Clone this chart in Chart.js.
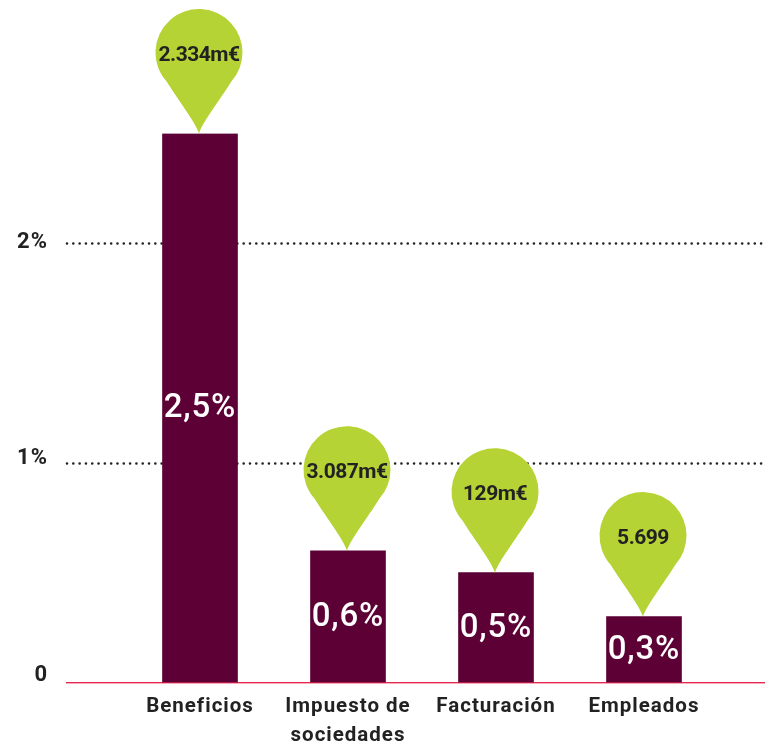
<!DOCTYPE html>
<html><head><meta charset="utf-8">
<script src="https://cdn.jsdelivr.net/npm/chart.js@4"></script>
<style>html,body{margin:0;padding:0;background:#fff}canvas{display:block}</style>
</head><body><canvas id="c" width="775" height="744"></canvas>
<script>
const categories = ['Beneficios', ['Impuesto de', 'sociedades'], 'Facturación', 'Empleados'];
const percentValues = [2.5, 0.6, 0.5, 0.3];
const barLabels = ['2,5%', '0,6%', '0,5%', '0,3%'];
const pinLabels = ['2.334m€', '3.087m€', '129m€', '5.699'];
const yTickLabels = {0: '0', 1: '1%', 2: '2%'};

const FONT = 'Roboto, sans-serif';
const tickLift = {0: 14, 1: 8, 2: 1};
const decor = {
  id: 'decor',
  beforeDraw(chart) { chart.ctx.letterSpacing = '1px'; },
  beforeDatasetsDraw(chart) {
    const {ctx, scales: {y}} = chart;
    ctx.save();
    [1, 2].forEach(v => {
      const py = Math.round(y.getPixelForValue(v)) + 0.5;
      ctx.beginPath();
      ctx.setLineDash([0.01, 6.3]);
      ctx.lineCap = 'round';
      ctx.lineWidth = 2.6;
      ctx.strokeStyle = '#222';
      ctx.moveTo(67, py);
      ctx.lineTo(766, py);
      ctx.stroke();
    });
    ctx.restore();
    ctx.save();
    ctx.fillStyle = '#e8294f';
    ctx.fillRect(66, y.getPixelForValue(0) - 0.5, 699, 1.4);
    ctx.restore();
  },
  afterDatasetsDraw(chart) {
    const {ctx, scales: {y}} = chart;
    const meta = chart.getDatasetMeta(0);
    meta.data.forEach((bar, i) => {
      const tx = bar.x - 1, ty = bar.y;
      const r = 43.5, cy = ty - 81;
      const a = 138 * Math.PI / 180, b = 42 * Math.PI / 180;
      ctx.save();
      ctx.fillStyle = '#b5d334';
      ctx.beginPath();
      ctx.moveTo(tx, ty);
      ctx.bezierCurveTo(tx - 4, ty - 12, tx - 20, ty - 32, tx + r * Math.cos(a), cy + r * Math.sin(a));
      ctx.arc(tx, cy, r, a, b + 2 * Math.PI);
      ctx.bezierCurveTo(tx + 20, ty - 32, tx + 4, ty - 12, tx, ty);
      ctx.closePath();
      ctx.fill();
      ctx.fillStyle = '#222';
      ctx.font = '700 21px ' + FONT;
      ctx.letterSpacing = '-0.5px';
      ctx.textAlign = 'center';
      ctx.textBaseline = 'middle';
      ctx.fillText(pinLabels[i], tx, cy + 3.5);
      ctx.fillStyle = '#fff';
      ctx.font = '500 33px ' + FONT;
      ctx.letterSpacing = '0.8px';
      const base = y.getPixelForValue(0);
      ctx.fillText(barLabels[i], bar.x, (bar.y + base) / 2 + 1);
      ctx.restore();
    });
  }
};

new Chart(document.getElementById('c'), {
  type: 'bar',
  data: {
    labels: categories,
    datasets: [{data: percentValues, backgroundColor: '#5c0036', borderWidth: 0, barThickness: 75}]
  },
  plugins: [decor],
  options: {
    responsive: false,
    animation: false,
    layout: {padding: {top: 133.5, right: 57, left: 0, bottom: 0}},
    plugins: {legend: {display: false}, tooltip: {enabled: false}},
    scales: {
      x: {
        grid: {display: false}, border: {display: false},
        ticks: {color: '#222', padding: 1.5, maxRotation: 0, autoSkip: true, maxTicksLimit: 8,
          font: {family: FONT, size: 20.5, weight: '700', lineHeight: '29px'}},
        afterFit(s) { s.height = 61.5; }
      },
      y: {
        min: 0, max: 2.5,
        grid: {display: false}, border: {display: false},
        ticks: {stepSize: 1, includeBounds: false, color: '#222', padding: 70,
          font: c => ({family: FONT, size: 22, weight: '700',
            lineHeight: (tickLift[c.tick ? c.tick.value : 2] ?? 1) + 'px'}),
          callback: v => [yTickLabels[v] ?? '', '']},
        afterFit(s) { s.width = 126; s.paddingTop = 0; s.paddingBottom = 0; }
      }
    }
  }
});
</script></body></html>
